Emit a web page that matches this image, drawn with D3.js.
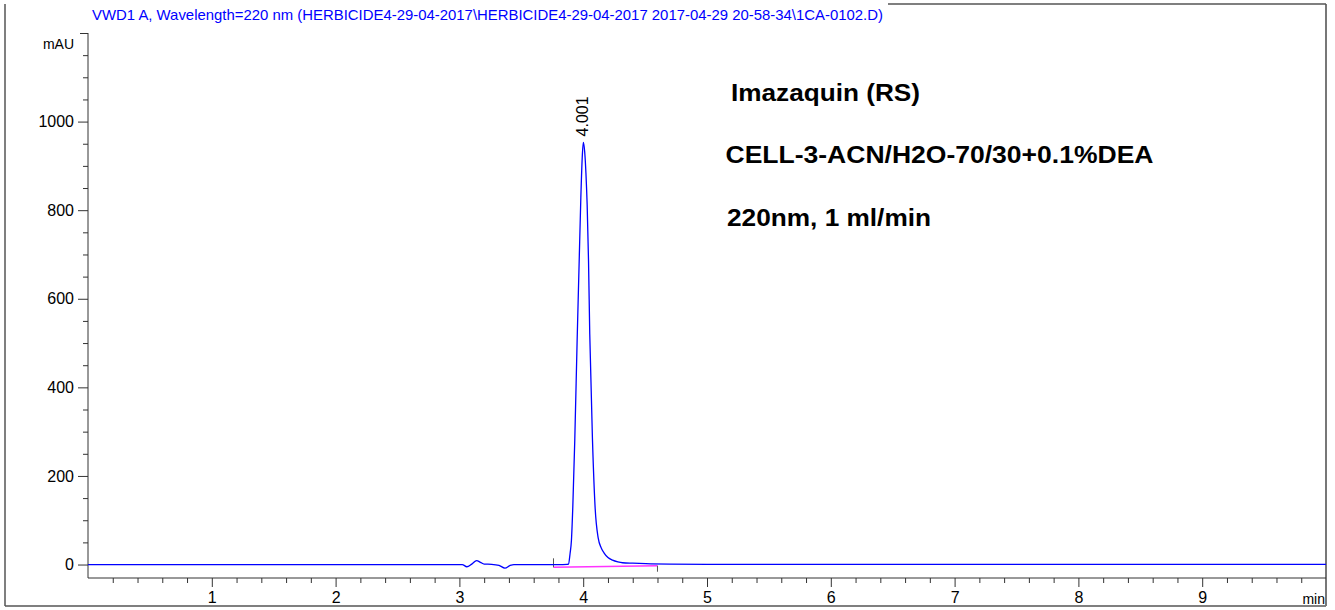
<!DOCTYPE html>
<html>
<head>
<meta charset="utf-8">
<script src="https://cdn.jsdelivr.net/npm/d3@7"></script>
<style>
  body { margin: 0; background: #fff; }
  svg { display: block; font-family: Arial, "Liberation Sans", sans-serif; }
  .axis path, .axis line { stroke: #333; }
  .axis text { fill: #000; }
</style>
</head>
<body>
<div id="chart-container"></div>
<script>
// Chromatogram trace (time in min, signal in mAU)
const traceTime = [0, 1, 2, 3.0, 3.023, 3.06, 3.1, 3.139, 3.17, 3.2, 3.26, 3.32, 3.368, 3.41, 3.441,
  3.6, 3.8, 3.87, 3.881, 3.894, 3.905, 3.916, 3.932, 3.951, 3.967, 3.981, 3.992, 4.001, 4.012, 4.022,
  4.032, 4.043, 4.053, 4.075, 4.096, 4.121, 4.145, 4.169, 4.2, 4.237, 4.28, 4.318, 4.4, 4.506, 4.7,
  5, 6, 7, 8, 9, 10];
const traceSignal = [0, 0, 0, 0, 0, -5, 1, 9, 5, 1, 0.5, -2, -8, -2, 0,
  0, 0, 0.5, 1, 25, 55, 130, 281, 506, 679, 829, 918, 953, 932, 884,
  812, 685, 520, 281, 130, 60, 38, 26, 16, 10, 6, 4, 3, 2, 1,
  0.5, 0.5, 0.5, 0.5, 0.5, 0.5];

// Peak annotation and integration baseline
const peakTime = [4.001];
const peakHeight = [953];
const peakLabel = ["4.001"];
const baselineTime = [3.76, 4.60];
const baselineSignal = [-6.3, -2.7];

// Axis ticks
const xMajorTicks = [1, 2, 3, 4, 5, 6, 7, 8, 9];
const yMajorTicks = [0, 200, 400, 600, 800, 1000];

const titleText = "VWD1 A, Wavelength=220 nm (HERBICIDE4-29-04-2017\\HERBICIDE4-29-04-2017 2017-04-29 20-58-34\\1CA-0102.D)";
const noteLines = ["Imazaquin (RS)", "CELL-3-ACN/H2O-70/30+0.1%DEA", "220nm, 1 ml/min"];

const width = 1335, height = 610;
const plot = { left: 88, right: 1326, top: 33, bottom: 578 };

const svg = d3.select("#chart-container")
    .append("svg")
    .attr("width", width)
    .attr("height", height);

const x = d3.scaleLinear().domain([0, 10]).range([plot.left, plot.right]);
const y = d3.scaleLinear().domain([-30.4, 1200]).range([plot.bottom, plot.top]);

// Outer frame (top edge stops where the title begins)
const frame = svg.append("g").attr("stroke", "#555").attr("fill", "none");
frame.append("line").attr("x1", 5).attr("y1", 4).attr("x2", 5).attr("y2", 606).attr("stroke-width", 1.5);
frame.append("line").attr("x1", 5).attr("y1", 606).attr("x2", plot.right).attr("y2", 606).attr("stroke-width", 1.5);
frame.append("line").attr("x1", plot.right).attr("y1", 4).attr("x2", plot.right).attr("y2", 606).attr("stroke-width", 2).attr("stroke", "#777");
frame.append("line").attr("x1", 888).attr("y1", 4).attr("x2", plot.right).attr("y2", 4).attr("stroke-width", 1.5);

// Title
svg.append("text")
    .attr("x", 92)
    .attr("y", 20)
    .attr("textLength", 791)
    .attr("lengthAdjust", "spacingAndGlyphs")
    .style("font-size", "15px")
    .style("fill", "#0000ff")
    .text(titleText);

// Y axis: major ticks, minor ticks and the top tick
svg.append("g")
    .attr("class", "axis")
    .attr("transform", `translate(${plot.left},0)`)
    .call(d3.axisLeft(y).tickValues(yMajorTicks).tickFormat(d3.format("d")).tickSize(10).tickPadding(4).tickSizeOuter(0))
    .call(g => g.select(".domain").remove())
    .selectAll("text").style("font-size", "16px");

const yMinor = d3.range(50, 1200, 50).filter(v => v % 200 !== 0);
svg.append("g")
    .attr("class", "axis")
    .attr("transform", `translate(${plot.left},0)`)
    .call(d3.axisLeft(y).tickValues(yMinor).tickSize(5).tickFormat(""))
    .call(g => g.select(".domain").remove());

svg.append("g")
    .attr("class", "axis")
    .attr("transform", `translate(${plot.left},0)`)
    .call(d3.axisLeft(y).tickValues([1200]).tickSize(8).tickFormat(""))
    .call(g => g.select(".domain").remove());

svg.append("line")
    .attr("x1", plot.left).attr("x2", plot.left)
    .attr("y1", plot.top).attr("y2", plot.bottom)
    .attr("stroke", "#333");

svg.append("text")
    .attr("x", 74)
    .attr("y", 49)
    .attr("text-anchor", "end")
    .style("font-size", "14px")
    .text("mAU");

// X axis
svg.append("g")
    .attr("class", "axis")
    .attr("transform", `translate(0,${plot.bottom})`)
    .call(d3.axisBottom(x).tickValues(xMajorTicks).tickSize(9).tickPadding(5).tickSizeOuter(0))
    .call(g => g.select(".domain").remove())
    .selectAll("text").style("font-size", "16px");

const xMinor = d3.range(1, 50).map(i => i / 5).filter(v => Math.abs(v - Math.round(v)) > 1e-6);
svg.append("g")
    .attr("class", "axis")
    .attr("transform", `translate(0,${plot.bottom})`)
    .call(d3.axisBottom(x).tickValues(xMinor).tickSize(5).tickFormat(""))
    .call(g => g.select(".domain").remove());

svg.append("line")
    .attr("x1", plot.left).attr("x2", plot.right)
    .attr("y1", plot.bottom).attr("y2", plot.bottom)
    .attr("stroke", "#333");

svg.append("text")
    .attr("x", 1325)
    .attr("y", 604)
    .attr("text-anchor", "end")
    .style("font-size", "14px")
    .text("min");

// Integration baseline with its start/end markers
svg.append("line")
    .attr("x1", x(baselineTime[0])).attr("y1", y(baselineSignal[0]))
    .attr("x2", x(baselineTime[1])).attr("y2", y(baselineSignal[1]))
    .attr("stroke", "#ff33ff")
    .attr("stroke-width", 1.5);
svg.append("line")
    .attr("x1", x(baselineTime[0])).attr("x2", x(baselineTime[0]))
    .attr("y1", y(baselineSignal[0]) - 9).attr("y2", y(baselineSignal[0]))
    .attr("stroke", "#555");
svg.append("line")
    .attr("x1", x(baselineTime[1])).attr("x2", x(baselineTime[1]))
    .attr("y1", y(baselineSignal[1])).attr("y2", y(baselineSignal[1]) + 6)
    .attr("stroke", "#555");

// Signal trace
const trace = traceTime.map((t, i) => ({ t: t, v: traceSignal[i] }));
const line = d3.line()
    .x(d => x(d.t))
    .y(d => y(d.v))
    .curve(d3.curveMonotoneX);

svg.append("path")
    .datum(trace)
    .attr("fill", "none")
    .attr("stroke", "#0000ff")
    .attr("stroke-width", 1.3)
    .attr("d", line);

// Retention time label above the peak
svg.selectAll(".peak-label")
    .data(peakTime)
    .enter()
    .append("text")
    .attr("class", "peak-label")
    .attr("transform", (d, i) => `translate(${x(d) + 5},${y(peakHeight[i]) - 6}) rotate(-90)`)
    .style("font-size", "16px")
    .text((d, i) => peakLabel[i]);

// Method notes
const noteY = [101, 163, 226];
const noteX = [731, 725.5, 727];
const noteWidth = [189, 428, 204];
svg.selectAll(".note")
    .data(noteLines)
    .enter()
    .append("text")
    .attr("class", "note")
    .attr("x", (d, i) => noteX[i])
    .attr("y", (d, i) => noteY[i])
    .attr("textLength", (d, i) => noteWidth[i])
    .attr("lengthAdjust", "spacingAndGlyphs")
    .style("font-size", "24px")
    .style("font-weight", "bold")
    .text(d => d);
</script>
</body>
</html>
